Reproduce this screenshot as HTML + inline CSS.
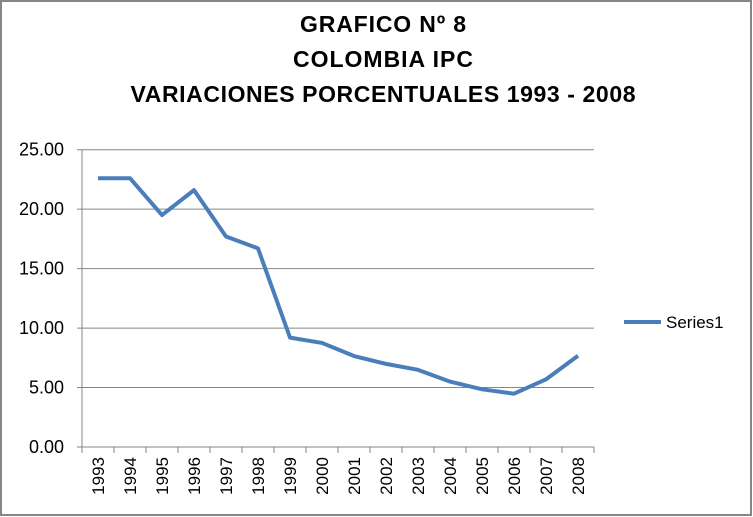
<!DOCTYPE html>
<html><head><meta charset="utf-8"><style>
body{margin:0;background:#fff}
svg{display:block;font-family:"Liberation Sans",sans-serif}
</style></head><body>
<svg id="chart" width="753" height="517">
<rect x="1" y="1" width="750" height="514" fill="#fff" stroke="#868686" stroke-width="2"/>
<text x="383" y="32" text-anchor="middle" font-size="23" font-weight="bold" textLength="166">GRAFICO Nº 8</text>
<text x="383" y="67" text-anchor="middle" font-size="23" font-weight="bold" textLength="180">COLOMBIA IPC</text>
<text x="383" y="102" text-anchor="middle" font-size="23" font-weight="bold" textLength="505">VARIACIONES PORCENTUALES  1993 - 2008</text>
<g id="grid"></g><g id="axes"></g><g id="series"></g>
<line x1="624" y1="322" x2="661" y2="322" stroke="#4a7ebb" stroke-width="4"/>
<text x="666" y="328" font-size="17">Series1</text>
</svg>
<script>
const categories=["1993","1994","1995","1996","1997","1998","1999","2000","2001","2002","2003","2004","2005","2006","2007","2008"];
const values=[22.6,22.6,19.5,21.6,17.7,16.7,9.2,8.75,7.65,6.99,6.49,5.5,4.85,4.48,5.69,7.67];
const yTicks=[0,5,10,15,20,25];
const yLabels=["0.00","5.00","10.00","15.00","20.00","25.00"];
const NS="http://www.w3.org/2000/svg";
const x0=82,x1=594,yTop=149.7,yBot=447,yMax=25;
const bw=(x1-x0)/categories.length;
const xs=i=>x0+bw*(i+0.5);
const ys=v=>yBot-(v/yMax)*(yBot-yTop);
function mk(t,a,p){const e=document.createElementNS(NS,t);for(const k in a)e.setAttribute(k,a[k]);p.appendChild(e);return e;}
const grid=document.getElementById('grid'),axes=document.getElementById('axes'),ser=document.getElementById('series');
yTicks.forEach((v,i)=>{
 const y=ys(v);
 const l=mk('line',{x1:x0-5,x2:x1,y1:y,y2:y,stroke:'#868686','stroke-width':1},grid);
 
 
 const t=mk('text',{x:x0-18,y:y+6,'text-anchor':'end','font-size':18},axes);
 t.textContent=yLabels[i];
 
 
});
const ya=mk('line',{x1:x0,x2:x0,y1:yTop,y2:yBot,stroke:'#868686'},axes);


categories.forEach((c,i)=>{
 const tx=x0+bw*(i+1);
 const tk=mk('line',{x1:tx,x2:tx,y1:yBot,y2:yBot+6,stroke:'#868686'},axes);
 
 
 const t=mk('text',{x:0,y:0,'text-anchor':'end','font-size':17,transform:`translate(${xs(i)+6},${yBot+10}) rotate(-90)`},axes);
 t.textContent=c;
 
 
});
const t0=mk('line',{x1:x0,x2:x0,y1:yBot,y2:yBot+6,stroke:'#868686'},axes);


const pl=mk('polyline',{points:values.map((v,i)=>xs(i)+','+ys(v)).join(' '),fill:'none',stroke:'#4a7ebb','stroke-width':4,'stroke-linejoin':'round'},ser);


</script>
</body></html>
